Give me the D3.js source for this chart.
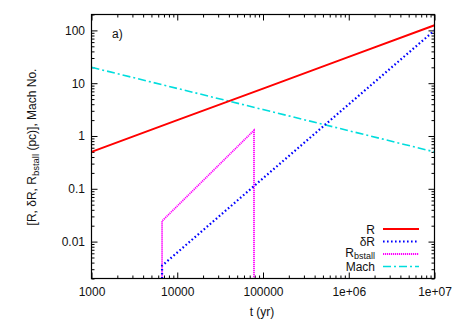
<!DOCTYPE html>
<html><head><meta charset="utf-8">
<script src="https://cdn.jsdelivr.net/npm/d3@7"></script>
<style>
body{margin:0;background:#fff;}
svg{display:block;font-family:"Liberation Sans",Arial,sans-serif;}
</style></head>
<body><svg id="c" width="458" height="320"></svg>
<script>
// ---- data ----
const xTicks = [1000, 10000, 100000, 1e6, 1e7];
const xTickLabels = ["1000", "10000", "100000", "1e+06", "1e+07"];
const yTicks = [0.01, 0.1, 1, 10, 100];
const yTickLabels = ["0.01", "0.1", "1", "10", "100"];

const R_t = [1000, 10000, 100000, 1e6, 1e7];
const R_v = [0.5, 2.0, 7.9, 31.5, 125];

const dR_t = [6650, 6650, 100000, 1e6, 1e7];
const dR_v = [0.002, 0.0035, 0.158, 3.98, 100];

const Rb_t = [6650, 6650, 78500, 78500];
const Rb_v = [0.002, 0.0245, 1.28, 0.002];

const Mach_t = [1000, 10000, 100000, 1e6, 1e7];
const Mach_v = [20, 7.96, 3.17, 1.26, 0.5];

const seriesNames = ["R", "δR", "Rbstall", "Mach"];

// ---- layout ----
const L = 91.5, Rr = 434.5, T = 14.5, B = 278.5;
const svg = d3.select("#c");
const x = d3.scaleLog().domain([1000, 1e7]).range([L, Rr]);
const y = d3.scaleLog().domain([0.002, 200]).range([B, T]);

const minorX = [];
for (let d = 1000; d < 1e7; d *= 10) for (let k = 2; k <= 9; k++) minorX.push(d * k);
const minorY = [];
for (let d = 0.001; d < 1000; d *= 10) for (let k = 2; k <= 9; k++) { const v = +(d * k).toPrecision(3); if (v >= 0.002 && v <= 200) minorY.push(v); }

function styleAxis(g) { g.select(".domain").remove(); g.selectAll("line").attr("stroke", "#000").attr("stroke-width", 1); g.selectAll("text").attr("font-size", 12).attr("fill", "#111").attr("font-family", "Liberation Sans, Arial, sans-serif"); }

svg.append("g").attr("transform", `translate(0,${B})`).call(d3.axisBottom(x).tickValues(xTicks).tickSize(-6).tickPadding(9).tickFormat((d, i) => xTickLabels[i])).call(styleAxis);
svg.append("g").attr("transform", `translate(0,${B})`).call(d3.axisBottom(x).tickValues(minorX).tickSize(-3).tickFormat("")).call(styleAxis);
svg.append("g").attr("transform", `translate(0,${T})`).call(d3.axisTop(x).tickValues(xTicks).tickSize(-6).tickFormat("")).call(styleAxis);
svg.append("g").attr("transform", `translate(0,${T})`).call(d3.axisTop(x).tickValues(minorX).tickSize(-3).tickFormat("")).call(styleAxis);
svg.append("g").attr("transform", `translate(${L},0)`).call(d3.axisLeft(y).tickValues(yTicks).tickSize(-6).tickPadding(6.5).tickFormat((d, i) => yTickLabels[i])).call(styleAxis);
svg.append("g").attr("transform", `translate(${L},0)`).call(d3.axisLeft(y).tickValues(minorY).tickSize(-3).tickFormat("")).call(styleAxis);
svg.append("g").attr("transform", `translate(${Rr},0)`).call(d3.axisRight(y).tickValues(yTicks).tickSize(-6).tickFormat("")).call(styleAxis);
svg.append("g").attr("transform", `translate(${Rr},0)`).call(d3.axisRight(y).tickValues(minorY).tickSize(-3).tickFormat("")).call(styleAxis);

svg.append("clipPath").attr("id", "pc").append("rect").attr("x", L).attr("y", T).attr("width", Rr - L).attr("height", B - T);

const styles = [
  { c: "#ff0000", w: 2, dash: null },
  { c: "#0000ff", w: 2.2, dash: "1.6,2.4" },
  { c: "#ff00ff", w: 1.8, dash: "1.2,0.8" },
  { c: "#00dddd", w: 1.6, dash: "8,3,2,3" }
];
const data = [[R_t, R_v], [dR_t, dR_v], [Rb_t, Rb_v], [Mach_t, Mach_v]];
const line = d3.line().x(d => x(d[0])).y(d => y(d[1]));
const plotG = svg.append("g").attr("clip-path", "url(#pc)");
[3, 2, 1, 0].forEach(i => {
  const pts = data[i][0].map((t, j) => [t, data[i][1][j]]);
  plotG.append("path").attr("d", line(pts)).attr("fill", "none").attr("stroke", styles[i].c)
    .attr("stroke-width", styles[i].w).attr("stroke-dasharray", styles[i].dash);
});

svg.append("rect").attr("x", L).attr("y", T).attr("width", Rr - L).attr("height", B - T).attr("fill", "none").attr("stroke", "#000").attr("stroke-width", 1.2);

// legend
const legY = [229, 241.5, 254, 266.5];
seriesNames.forEach((n, i) => {
  const ty = legY[i] + 4.5;
  const t = svg.append("text").attr("x", 375).attr("y", n === "Rbstall" ? ty - 2 : ty).attr("text-anchor", "end").attr("font-size", 12).attr("fill", "#111");
  if (n === "Rbstall") {
    t.append("tspan").text("R");
    t.append("tspan").attr("font-size", 9).attr("dy", 2.5).text("bstall");
  } else t.text(n);
  svg.append("line").attr("x1", 383).attr("x2", 419).attr("y1", legY[i]).attr("y2", legY[i])
    .attr("stroke", styles[i].c).attr("stroke-width", styles[i].w).attr("stroke-dasharray", styles[i].dash);
});

svg.append("text").attr("x", 112).attr("y", 37.5).attr("font-size", 12).attr("fill", "#111").text("a)");
svg.append("text").attr("x", 262).attr("y", 315.5).attr("text-anchor", "middle").attr("font-size", 12).attr("fill", "#111").text("t (yr)");
const yl = svg.append("text").attr("transform", "translate(36,147) rotate(-90)").attr("text-anchor", "middle").attr("font-size", 12).attr("fill", "#111");
yl.append("tspan").text("[R, δR, R");
yl.append("tspan").attr("font-size", 9.5).attr("dy", 3).text("bstall");
yl.append("tspan").attr("dy", -3).text(" (pc)], Mach No.");
</script></body></html>
